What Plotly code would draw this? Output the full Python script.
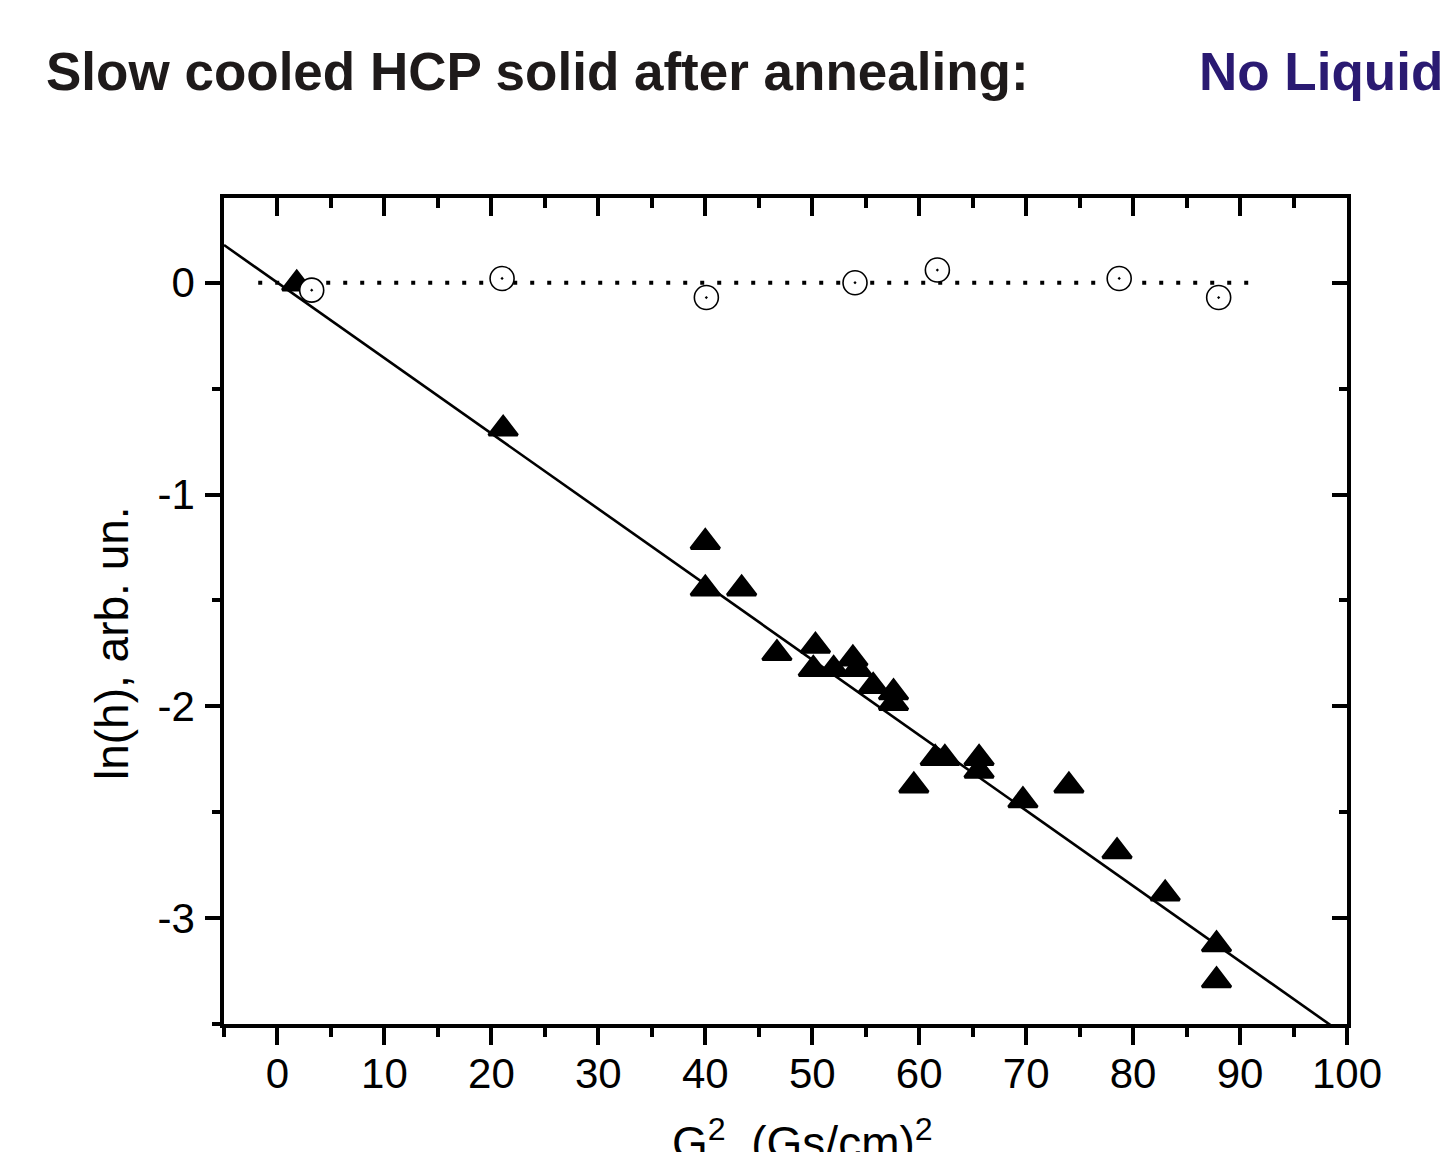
import plotly.graph_objects as go

# ---- data ----
tri_x = [1.8, 21.1, 40.0, 40.0, 43.4, 46.7, 50.3, 50.1, 52.0, 53.8, 54.2, 55.7, 57.6, 57.6,
         59.5, 61.5, 62.4, 65.6, 65.6, 69.7, 74.0, 78.5, 83.0, 87.8, 87.8]
tri_y = [-0.005, -0.69, -1.225, -1.445, -1.445, -1.75, -1.715, -1.825, -1.825, -1.775, -1.825,
         -1.905, -1.935, -1.985, -2.375, -2.245, -2.245, -2.245, -2.305, -2.445, -2.375,
         -2.685, -2.885, -3.125, -3.295]

circ_x = [3.2, 21.0, 40.1, 54.0, 61.7, 78.7, 88.0]
circ_y = [-0.035, 0.02, -0.07, 0.0, 0.06, 0.02, -0.07]

fit_x = [-5.0, 100.0]
fit_y = [0.178, -3.56]

ref_x = [-1.8, 91.4]
ref_y = [0.0, 0.0]

x_ticks = [0, 10, 20, 30, 40, 50, 60, 70, 80, 90, 100]
y_ticks = [0, -1, -2, -3]
y_tick_text = ["0", "-1", "-2", "-3"]

title_left = "Slow cooled HCP solid after annealing:"
title_right = "No Liquid"
x_title = "G<sup>2</sup>, (Gs/cm)<sup>2</sup>"
y_title = "ln(h), arb. un."

# ---- layout geometry ----
W, H = 1440, 1152
L, R, T, B = 224, 1347, 198, 1024
FONT = "Liberation Sans, Arial, sans-serif"


def px(xp):
    return (xp - L) / (R - L)


def py(yp):
    return (B - yp) / (B - T)


fig = go.Figure()

fig.add_trace(go.Scatter(x=fit_x, y=fit_y, mode="lines",
                         line=dict(color="black", width=2.6), showlegend=False))
fig.add_trace(go.Scatter(x=tri_x, y=tri_y, mode="markers",
                         marker=dict(symbol="triangle-up", size=25, color="black",
                                     line=dict(color="black", width=3)),
                         showlegend=False))
fig.add_trace(go.Scatter(x=ref_x, y=ref_y, mode="lines",
                         line=dict(color="black", width=4, dash="4px,13px"),
                         showlegend=False))
fig.add_trace(go.Scatter(x=circ_x, y=circ_y, mode="markers",
                         marker=dict(symbol="circle-dot", size=24, color="white",
                                     line=dict(color="black", width=1.6)),
                         showlegend=False))
# empty trace to carry the mirrored (top/right) axes
fig.add_trace(go.Scatter(x=[], y=[], xaxis="x2", yaxis="y2", showlegend=False))

tickfont = dict(family=FONT, size=42, color="black")

fig.update_layout(
    width=W, height=H,
    margin=dict(l=L, r=W - R, t=T, b=H - B, pad=0),
    paper_bgcolor="white", plot_bgcolor="white",
    xaxis=dict(range=[-5, 100], tickvals=x_ticks, ticks="outside", ticklen=17, tickwidth=3.5,
               tickcolor="black", showline=True, linecolor="black", linewidth=3.5,
               showgrid=False, zeroline=False, tickfont=tickfont, ticklabelstandoff=-7,
               minor=dict(dtick=5, tick0=0, ticks="outside", ticklen=9, tickwidth=3.5,
                          tickcolor="black", showgrid=False)),
    yaxis=dict(range=[-3.5, 0.4], tickvals=y_ticks, ticktext=y_tick_text, ticks="outside",
               ticklen=15, tickwidth=3.5, tickcolor="black", showline=True,
               linecolor="black", linewidth=3.5, showgrid=False, zeroline=False,
               tickfont=tickfont, ticklabelstandoff=2,
               minor=dict(dtick=0.5, tick0=0, ticks="outside", ticklen=8, tickwidth=3.5,
                          tickcolor="black", showgrid=False)),
    xaxis2=dict(range=[-5, 100], overlaying="x", side="top", anchor="y2", tickvals=x_ticks,
                ticks="inside", ticklen=18, tickwidth=3.5, tickcolor="black",
                showline=True, linecolor="black", linewidth=3.5, showgrid=False,
                zeroline=False, showticklabels=False,
                minor=dict(dtick=5, tick0=0, ticks="inside", ticklen=10, tickwidth=3.5,
                           tickcolor="black", showgrid=False)),
    yaxis2=dict(range=[-3.5, 0.4], overlaying="y", side="right", anchor="x2",
                tickvals=y_ticks, ticks="inside", ticklen=15, tickwidth=3.5,
                tickcolor="black", showline=True, linecolor="black", linewidth=3.5,
                showgrid=False, zeroline=False, showticklabels=False,
                minor=dict(dtick=0.5, tick0=0, ticks="inside", ticklen=8, tickwidth=3.5,
                           tickcolor="black", showgrid=False)),
    annotations=[
        dict(text="<b>" + title_left + "</b>", xref="paper", yref="paper",
             x=px(44), y=py(72), xanchor="left", yanchor="middle", showarrow=False,
             font=dict(family=FONT, size=53, color="#1e1a1a")),
        dict(text="<b>" + title_right + "</b>", xref="paper", yref="paper",
             x=px(1197), y=py(72), xanchor="left", yanchor="middle", showarrow=False,
             font=dict(family=FONT, size=53, color="#2a1a72")),
        dict(text=x_title, xref="paper", yref="paper",
             x=px(802), y=py(1140), xanchor="center", yanchor="middle", showarrow=False,
             font=dict(family=FONT, size=46, color="black")),
        dict(text=y_title, xref="paper", yref="paper", textangle=-90,
             x=px(112), y=py(643), xanchor="center", yanchor="middle", showarrow=False,
             font=dict(family=FONT, size=46, color="black")),
    ],
)

fig.write_html("out.html", config={"displayModeBar": False},
               post_script="document.body.style.margin='0';"
                           "document.body.style.overflow='hidden';")
